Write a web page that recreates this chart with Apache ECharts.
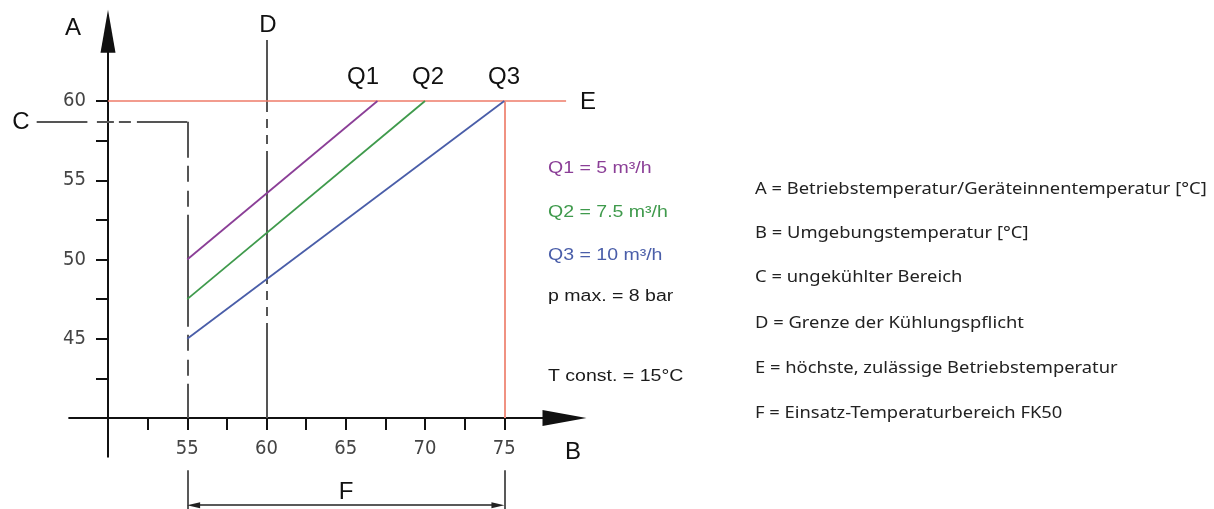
<!DOCTYPE html>
<html>
<head>
<meta charset="utf-8">
<script src="https://cdn.jsdelivr.net/npm/echarts@6/dist/echarts.min.js"></script>
<style>
  html, body { margin: 0; padding: 0; background: #fff; }
  #chart { width: 1214px; height: 509px; }
</style>
</head>
<body>
<div id="chart"></div>
<script>
// axis ticks (B = Umgebungstemperatur, A = Betriebstemperatur)
const xTicks = [52.5, 55, 57.5, 60, 62.5, 65, 67.5, 70, 72.5, 75]
const xLabels = [55, 60, 65, 70, 75]
const yTicks = [42.5, 45, 47.5, 50, 52.5, 55, 57.5, 60]
const yLabels = [45, 50, 55, 60]

// flow rate curves
const q1 = [[55, 50], [67, 60]]
const q2 = [[55, 47.5], [70, 60]]
const q3 = [[55, 45], [75, 60]]

// reference lines
const maxTemp = [[50, 60], [78.9, 60]]            // E
const rangeEnd = [[75, 60], [75, 40]]
const coolingLimit = [[60, 63.85], [60, 40]]      // D
const uncooledLead = [[45.5, 58.7], [48.7, 58.7]] // C
const uncooledH = [[49.3, 58.7], [55, 58.7]]
const uncooledV = [[55, 58.7], [55, 40]]
const axisExtX = [[47.5, 40], [50, 40]]
const axisExtY = [[50, 40], [50, 37.5]]
const rangeF = [[55.4, 34.5], [74.6, 34.5]]
const fLeft = [[55, 36.7], [55, 34.2]]
const fRight = [[75, 36.7], [75, 34.2]]

const legendRows = [
  ['Q1 = 5 m³/h', '#8b3f97'],
  ['Q2 = 7.5 m³/h', '#3f9a4c'],
  ['Q3 = 10 m³/h', '#4a5ea9'],
  ['p max. = 8 bar', '#1a1a1a'],
  ['T const. = 15°C', '#1a1a1a'],
]
const notes = [
  'A = Betriebstemperatur/Geräteinnentemperatur [°C]',
  'B = Umgebungstemperatur [°C]',
  'C = ungekühlter Bereich',
  'D = Grenze der Kühlungspflicht',
  'E = höchste, zulässige Betriebstemperatur',
  'F = Einsatz-Temperaturbereich FK50',
]

const chart = echarts.init(document.getElementById('chart'))

function seg(coords, color, width, type, offset) {
  return { coords, lineStyle: { color, width, opacity: 1, type: type || 'solid', dashOffset: offset || 0 } }
}
function curve(data, color) {
  return { type: 'line', data, symbol: 'none', silent: true, lineStyle: { color, width: 1.8 } }
}

const bigFont = '24px "Liberation Sans", Arial, sans-serif'
function big(text, x, y) {
  return { type: 'text', x, y, style: { text, font: bigFont, fill: '#111', align: 'center', verticalAlign: 'middle' } }
}

const legendY = [169, 213, 256, 297, 377]
const notesY = [189, 233, 277, 323, 368, 413]
const tickFont = '"Liberation Sans Narrow", "DejaVu Sans Condensed", Roboto, sans-serif'

chart.setOption({
  animation: false,
  grid: { left: 108, top: 31.3, right: 649.5, bottom: 91 },
  xAxis: {
    type: 'value', min: 50, max: 78.8,
    splitLine: { show: false },
    axisLine: { lineStyle: { color: '#111', width: 2 }, symbol: ['none', 'triangle'], symbolSize: [16, 44] },
    axisTick: { customValues: xTicks, length: 12, lineStyle: { color: '#111', width: 2 } },
    axisLabel: { customValues: xLabels, margin: 21, color: '#444', fontSize: 20, fontFamily: tickFont },
  },
  yAxis: {
    type: 'value', min: 40, max: 64.4,
    splitLine: { show: false },
    axisLine: { lineStyle: { color: '#111', width: 2 }, symbol: ['none', 'triangle'], symbolSize: [15, 43] },
    axisTick: { customValues: yTicks, length: 12, lineStyle: { color: '#111', width: 2 } },
    axisLabel: { customValues: yLabels, margin: 22, color: '#444', fontSize: 20, fontFamily: tickFont },
  },
  series: [
    {
      type: 'lines', coordinateSystem: 'cartesian2d', clip: false, silent: true, symbol: 'none',
      data: [
        seg(axisExtX, '#111', 2),
        seg(axisExtY, '#111', 2),
        seg(uncooledLead, '#555', 2),
        seg(uncooledH, '#555', 2, [17, 5, 12, 6, 100, 0]),
        seg(uncooledV, '#555', 2, [112, 8, 16, 9, 16, 8], 76),
        seg(coolingLimit, '#555', 2, [133, 7, 9, 7, 9, 7], 61),
        seg(maxTemp, '#ee7b68', 1.5),
        seg(rangeEnd, '#f09282', 2),
        seg(fLeft, '#222', 1.5),
        seg(fRight, '#222', 1.5),
      ],
    },
    curve(q1, '#8b3f97'),
    curve(q2, '#3f9a4c'),
    curve(q3, '#4a5ea9'),
    {
      type: 'lines', coordinateSystem: 'cartesian2d', clip: false, silent: true,
      symbol: ['triangle', 'triangle'], symbolSize: [[6, 13], [6, 13]],
      lineStyle: { color: '#222', width: 1.5, opacity: 1 },
      data: [{ coords: rangeF }],
    },
  ],
  graphic: [
    big('A', 73, 28), big('D', 268, 25), big('C', 21, 122),
    big('Q1', 363, 77), big('Q2', 428, 77), big('Q3', 504, 77),
    big('E', 588, 102), big('B', 573, 452), big('F', 346, 492),
    ...legendRows.map((r, i) => ({
      type: 'text', x: 548, y: legendY[i], scaleX: 1.22,
      style: { text: r[0], font: '16px "Liberation Sans", Arial, sans-serif', fill: r[1], verticalAlign: 'middle' },
    })),
    ...notes.map((t, i) => ({
      type: 'text', x: 755, y: notesY[i], scaleX: 1.08,
      style: { text: t, font: '17px "Noto Sans", sans-serif', fill: '#222', verticalAlign: 'middle' },
    })),
  ],
})
</script>
</body>
</html>
